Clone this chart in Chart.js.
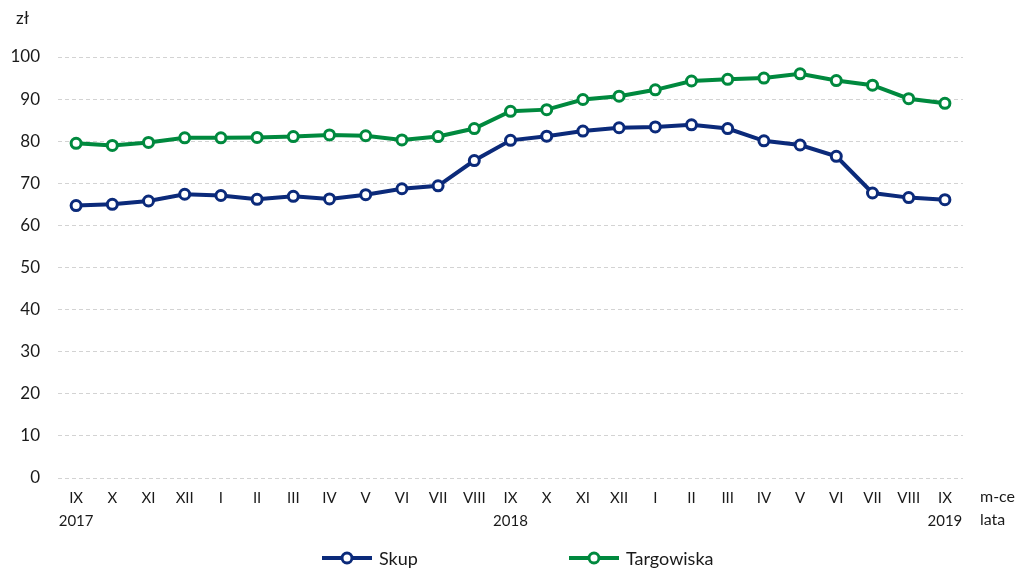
<!DOCTYPE html>
<html lang="pl">
<head>
<meta charset="utf-8">
<script src="https://cdn.jsdelivr.net/npm/chart.js@4/dist/chart.umd.min.js"></script>
<style>
  html, body { margin: 0; padding: 0; background: #fff; }
  #wrap { position: relative; width: 1022px; height: 571px; font-family: Lato, "Noto Sans", sans-serif; }
  #legenda { position: absolute; left: 0; top: 546px; width: 1022px; height: 24px; }
  .leg { position: absolute; top: 0; display: flex; align-items: center; font-size: 18px; color: #1a1a1a; }
  .leg svg { margin-right: 6px; }
</style>
</head>
<body>
<div id="wrap">
  <canvas id="wykres" width="1022" height="571"></canvas>
  <div id="legenda"></div>
</div>
<script>
// dane
const miesiace = ["IX","X","XI","XII","I","II","III","IV","V","VI","VII","VIII",
                  "IX","X","XI","XII","I","II","III","IV","V","VI","VII","VIII","IX"];
const lata = ["2017","","","","","","","","","","","",
              "2018","","","","","","","","","","","","2019"];
const skup = [64.7, 65.0, 65.8, 67.4, 67.1, 66.2, 66.9, 66.3, 67.3, 68.7, 69.4, 75.4,
              80.2, 81.2, 82.4, 83.2, 83.4, 83.9, 83.0, 80.1, 79.1, 76.4, 67.7, 66.6, 66.1];
const targowiska = [79.5, 79.0, 79.7, 80.8, 80.8, 80.9, 81.1, 81.5, 81.3, 80.3, 81.1, 83.0,
                    87.1, 87.5, 89.9, 90.7, 92.2, 94.3, 94.7, 95.0, 96.0, 94.4, 93.3, 90.1, 89.0];
const yTicks = [0, 10, 20, 30, 40, 50, 60, 70, 80, 90, 100];

const KOLOR_SKUP = "#0b2a7a";
const KOLOR_TARG = "#00893e";
const TEKST = "#1a1a1a";

/* ===========================================
        OPISY OSI (zł, m-ce, lata)
=========================================== */
const opisyOsi = {
  id: "opisyOsi",
  afterDraw(chart) {
    const { ctx, chartArea } = chart;
    ctx.save();
    ctx.fillStyle = TEKST;
    ctx.textBaseline = "middle";
    ctx.textAlign = "left";
    ctx.font = "17px Lato, 'Noto Sans', sans-serif";
    ctx.fillText("zł", 16, 19);
    ctx.font = "16px Lato, 'Noto Sans', sans-serif";
    ctx.fillText("m-ce", chartArea.right + 17, 497);
    ctx.fillText("lata", chartArea.right + 17, 520);
    ctx.restore();
  }
};

const linia = (label, dane, kolor) => ({
  label,
  data: dane,
  borderColor: kolor,
  backgroundColor: "#ffffff",
  borderWidth: 4,
  pointRadius: 5,
  pointBorderWidth: 3,
  pointBackgroundColor: "#ffffff",
  pointBorderColor: kolor,
  tension: 0
});

new Chart(document.getElementById("wykres"), {
  type: "line",
  data: {
    labels: miesiace.map((m, i) => lata[i] ? [m, lata[i]] : m),
    datasets: [
      linia("Skup", skup, KOLOR_SKUP),
      linia("Targowiska", targowiska, KOLOR_TARG)
    ]
  },
  options: {
    responsive: false,
    animation: false,
    layout: { padding: { top: 57, right: 59, bottom: 30, left: 0 } },
    plugins: {
      legend: { display: false },
      tooltip: { enabled: false }
    },
    scales: {
      x: {
        offset: true,
        grid: { display: false, drawTicks: false },
        border: { display: false },
        ticks: {
          padding: 9,
          color: TEKST,
          maxRotation: 0,
          autoSkip: false,
          font: { family: "Lato, 'Noto Sans', sans-serif", size: 15, lineHeight: 1.5 }
        }
      },
      y: {
        min: 0,
        max: 100,
        afterFit: s => { s.width = 58; },
        afterBuildTicks: s => { s.ticks = yTicks.map(v => ({ value: v })); },
        grid: { color: "#d3d3d3", lineWidth: 1, drawTicks: false },
        border: { display: false, dash: [4, 3] },
        ticks: {
          padding: 18,
          color: TEKST,
          font: { family: "Lato, 'Noto Sans', sans-serif", size: 17 }
        }
      }
    }
  },
  plugins: [opisyOsi]
});

/* ===========================================
                LEGENDA
=========================================== */
function renderLegenda() {
  const el = document.getElementById("legenda");
  const pozycje = [
    { label: "Skup", kolor: KOLOR_SKUP, left: 321 },
    { label: "Targowiska", kolor: KOLOR_TARG, left: 568 }
  ];
  pozycje.forEach(p => {
    const div = document.createElement("div");
    div.className = "leg";
    div.style.left = p.left + "px";
    div.innerHTML = `
      <svg width="52" height="24">
        <line x1="1" y1="12" x2="51" y2="12" stroke="${p.kolor}" stroke-width="4"/>
        <circle cx="26" cy="12" r="5" fill="#fff" stroke="${p.kolor}" stroke-width="3"/>
      </svg>${p.label}`;
    el.appendChild(div);
  });
}
renderLegenda();
</script>
</body>
</html>
